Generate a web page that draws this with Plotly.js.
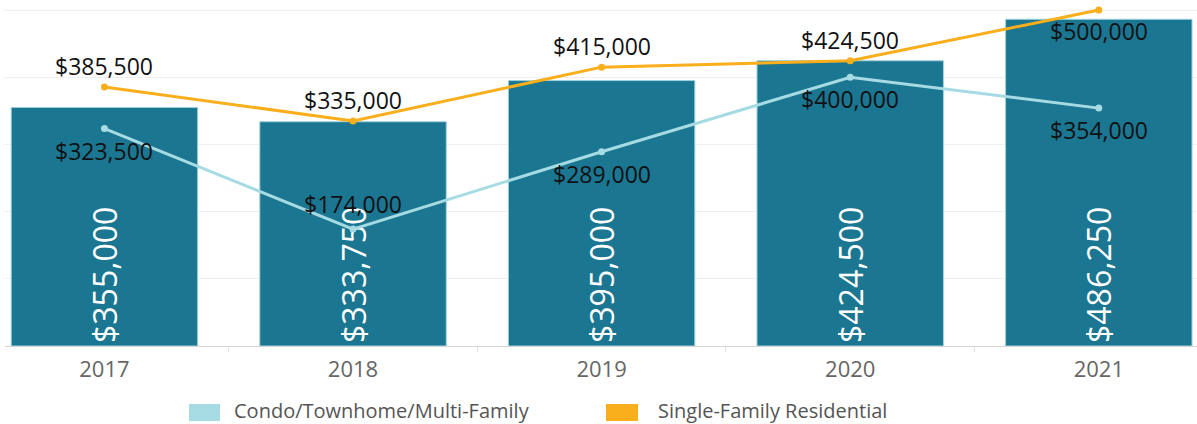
<!DOCTYPE html>
<html>
<head>
<meta charset="utf-8">
<script src="https://cdn.plot.ly/plotly-3.0.1.min.js"></script>
<style>html,body{margin:0;padding:0;background:#fff;}#chart{width:1197px;height:424px;}</style>
</head>
<body>
<div id="chart"></div>
<script>
const years = ['2017', '2018', '2019', '2020', '2021'];
const overallMedian = [355000, 333750, 395000, 424500, 486250];
const condoMedian = [323500, 174000, 289000, 400000, 354000];
const singleFamilyMedian = [385500, 335000, 415000, 424500, 500000];
const legendNames = ['Condo/Townhome/Multi-Family', 'Single-Family Residential'];
// label placement: 1 = above the point, -1 = below
const condoLabelSide = [-1, 1, -1, -1, -1];
const sfrLabelSide = [1, 1, 1, 1, -1];

const BAR = '#1b7692', CONDO = '#a6dbe3', SFR = '#f9ae1c';
const FONT = '"Open Sans", "Noto Sans", sans-serif';
const fmt = v => '$' + v.toLocaleString('en-US');

// plot area in pixels: left 5, right 1197, top 8, bottom 346
const L = 5, R = 1197, T = 8, B = 346;
const px = x => (x - L) / (R - L);
const py = y => (B - y) / (B - T);

const traces = [
  {
    type: 'bar', x: years, y: overallMedian, width: 0.75,
    marker: {color: BAR, line: {color: '#9fd2dc', width: 1}},
    text: overallMedian.map(fmt), textposition: 'inside', insidetextanchor: 'start',
    textangle: -90, textfont: {family: FONT, size: 32, color: '#ffffff'},
    constraintext: 'none', showlegend: false, hoverinfo: 'x+y'
  },
  {
    type: 'scatter', mode: 'lines+markers', x: years, y: condoMedian,
    line: {color: CONDO, width: 3}, marker: {color: CONDO, size: 7},
    cliponaxis: false, showlegend: false, name: legendNames[0]
  },
  {
    type: 'scatter', mode: 'lines+markers', x: years, y: singleFamilyMedian,
    line: {color: SFR, width: 3}, marker: {color: SFR, size: 7},
    cliponaxis: false, showlegend: false, name: legendNames[1]
  }
];

// value labels placed on the category axis by category index
const pointLabels = [];
function addLabels(vals, sides, up, down) {
  vals.forEach((v, i) => {
    pointLabels.push({
      x: i, y: v, xref: 'x', yref: 'y', text: fmt(v), showarrow: false,
      xanchor: 'center', yanchor: 'middle', yshift: sides[i] > 0 ? up : -down,
      font: {family: FONT, size: 23, color: '#111111'}
    });
  });
}
addLabels(condoMedian, condoLabelSide, 25, 22);
addLabels(singleFamilyMedian, sfrLabelSide, 21, 21);

const layout = {
  width: 1197, height: 424,
  margin: {l: L, r: 1197 - R, t: T, b: 424 - B},
  paper_bgcolor: '#ffffff', plot_bgcolor: '#ffffff',
  font: {family: FONT},
  showlegend: false,
  xaxis: {
    type: 'category', range: [-0.4, 4.395],
    showline: true, linecolor: '#d6d6d6', linewidth: 1,
    ticks: 'outside', tickson: 'boundaries', ticklen: 5, tickcolor: '#e0e0e0',
    ticklabelstandoff: 4,
    showgrid: false, tickfont: {family: FONT, size: 22, color: '#666666'},
    fixedrange: true
  },
  yaxis: {
    range: [0, 503000], dtick: 100000, showticklabels: false,
    showgrid: true, gridcolor: '#efefef', gridwidth: 1, zeroline: false,
    fixedrange: true
  },
  shapes: [
    {type: 'rect', xref: 'paper', yref: 'paper', x0: px(189), x1: px(220), y0: py(404), y1: py(421), fillcolor: CONDO, line: {width: 0}},
    {type: 'rect', xref: 'paper', yref: 'paper', x0: px(606), x1: px(638), y0: py(404), y1: py(421), fillcolor: SFR, line: {width: 0}}
  ],
  annotations: pointLabels.concat([
    {xref: 'paper', yref: 'paper', x: px(232), y: py(410), xanchor: 'left', yanchor: 'middle', showarrow: false,
     text: legendNames[0], font: {family: FONT, size: 20, color: '#555555'}},
    {xref: 'paper', yref: 'paper', x: px(656), y: py(410), xanchor: 'left', yanchor: 'middle', showarrow: false,
     text: legendNames[1], font: {family: FONT, size: 20, color: '#555555'}}
  ])
};

Plotly.newPlot('chart', traces, layout, {displayModeBar: false, staticPlot: true});
</script>
</body>
</html>
